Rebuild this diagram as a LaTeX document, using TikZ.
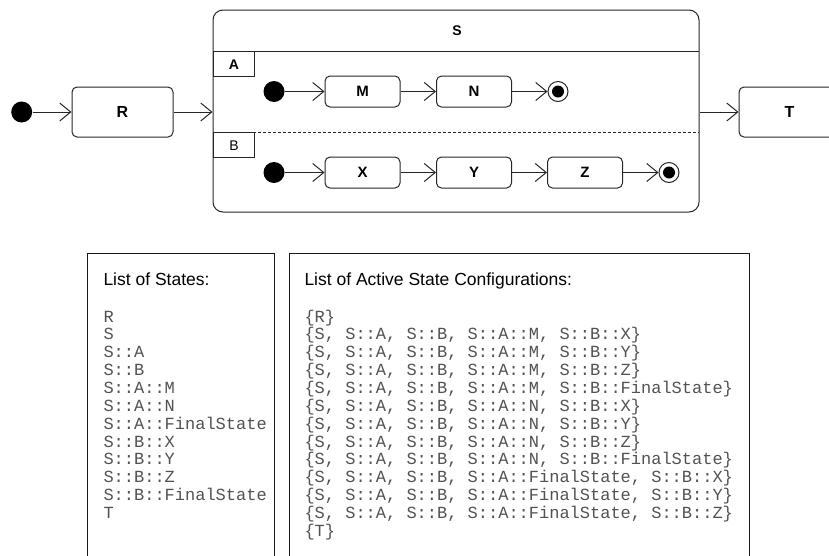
\documentclass[tikz,border=0pt]{standalone}
\usepackage{fontspec}
\setmainfont{Liberation Sans}
\setmonofont{Liberation Mono}
\usetikzlibrary{arrows.meta}
\begin{document}
\begin{tikzpicture}[x=1pt,y=-1pt, line width=1pt,
  every node/.style={inner sep=0pt},
  st/.style={draw=black!85, rounded corners=5pt, font=\fontsize{15}{18}\selectfont\bfseries},
  big/.style={st, minimum width=101pt, minimum height=50pt, font=\fontsize{16}{18}\selectfont\bfseries},
  small/.style={st, minimum width=75pt, minimum height=31pt},
  init/.style={circle, fill=black, minimum size=21pt},
  fin/.style={circle, draw=black!85, minimum size=20pt,
    path picture={\fill (path picture bounding box.center) circle (6pt);}},
  tr/.style={-{Straight Barb[length=11pt,width=18pt]}, draw=black!85},
  mono/.style={font=\ttfamily\fontsize{17}{18}\selectfont, text=black!68, anchor=base west},
  head/.style={font=\fontsize{17.5}{20}\selectfont, anchor=base west},
  lab/.style={font=\fontsize{14}{16}\selectfont}]
\useasboundingbox (0,0) rectangle (829,555);
\clip (0,0) rectangle (829,555);

% top level
\node[init] (i0) at (21.7,112) {};
\node[big] (R) at (122.5,112) {R};
\node[draw=black!85, rounded corners=10pt, minimum width=486pt, minimum height=202pt] (S) at (456,111) {};
\node[big] (T) at (789.5,112) {T};

\draw[tr] (i0) -- (R);
\draw[tr] (R.east) -- (R.east -| S.west);
\draw[tr] (T.west -| S.east) -- (T.west);

% composite internals
\draw[black!85] (213,51) -- (699,51);
\node[lab, font=\fontsize{14}{16}\selectfont\bfseries] (Slab) at (457,31) {S};
\draw[black!85] (213,51) rectangle (254,76);
\node[lab, font=\fontsize{14}{16}\selectfont\bfseries] (Alab) at (234,64.5) {A};
\draw[black!85, dash pattern=on 3pt off 2pt] (213,132) -- (699,132);
\draw[black!85] (213,132) rectangle (254,157);
\node[lab] (Blab) at (234,145.5) {B};

% region A
\node[init] (iA) at (274,91.5) {};
\node[small] (M) at (362.5,91.5) {M};
\node[small] (N) at (474,91.5) {N};
\node[fin] (fA) at (558,91.5) {};
\draw[tr] (iA) -- (M);
\draw[tr] (M) -- (N);
\draw[tr] (N) -- (fA);

% region B
\node[init] (iB) at (274,172.5) {};
\node[small] (X) at (362.5,172.5) {X};
\node[small] (Y) at (474,172.5) {Y};
\node[small] (Z) at (585,172.5) {Z};
\node[fin] (fB) at (669,172.5) {};
\draw[tr] (iB) -- (X);
\draw[tr] (X) -- (Y);
\draw[tr] (Y) -- (Z);
\draw[tr] (Z) -- (fB);

% lists
\draw[black!90] (87,253) rectangle (274,600);
\draw[black!90] (289,253) rectangle (749,600);
\node[head] (h1) at (103,285) {List of States:};
\node[head] (h2) at (304,285) {List of Active State Configurations:};

\foreach \t [count=\i from 0] in {R,S,S::A,S::B,S::A::M,S::A::N,S::A::FinalState,S::B::X,S::B::Y,S::B::Z,S::B::FinalState,T}
  \node[mono] (ls\i) at (103,322+\i*17.86) {\t};

\foreach \t [count=\i from 0] in {
  {\{R\}},
  {\{S, S::A, S::B, S::A::M, S::B::X\}},
  {\{S, S::A, S::B, S::A::M, S::B::Y\}},
  {\{S, S::A, S::B, S::A::M, S::B::Z\}},
  {\{S, S::A, S::B, S::A::M, S::B::FinalState\}},
  {\{S, S::A, S::B, S::A::N, S::B::X\}},
  {\{S, S::A, S::B, S::A::N, S::B::Y\}},
  {\{S, S::A, S::B, S::A::N, S::B::Z\}},
  {\{S, S::A, S::B, S::A::N, S::B::FinalState\}},
  {\{S, S::A, S::B, S::A::FinalState, S::B::X\}},
  {\{S, S::A, S::B, S::A::FinalState, S::B::Y\}},
  {\{S, S::A, S::B, S::A::FinalState, S::B::Z\}},
  {\{T\}}}
  \node[mono] (lc\i) at (304,322+\i*17.86) {\t};
\end{tikzpicture}
\end{document}
